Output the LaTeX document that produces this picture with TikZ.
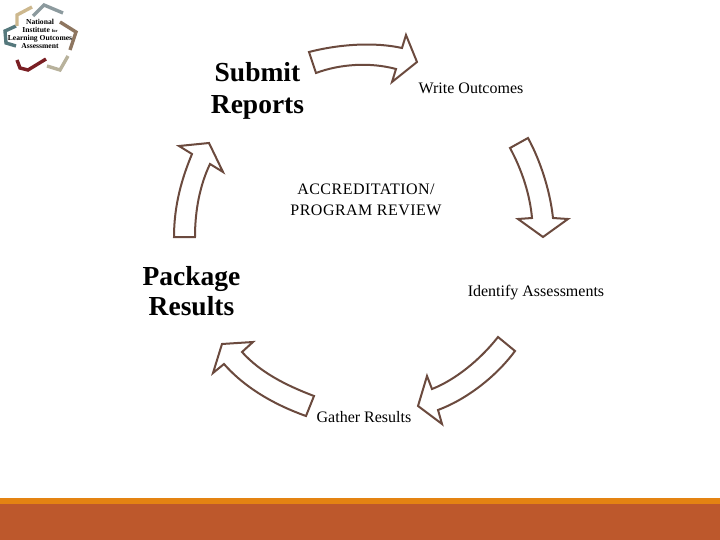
\documentclass[tikz,border=0pt]{standalone}
\usepackage{fontspec}
\setmainfont{Liberation Serif}
\definecolor{arrowbrown}{HTML}{6B4A3E}
\definecolor{bandorange}{HTML}{E48312}
\definecolor{bandrust}{HTML}{BD582C}
\definecolor{logogrey}{HTML}{8C9A9E}
\definecolor{logobrown}{HTML}{8E7660}
\definecolor{logotan}{HTML}{B8B29C}
\definecolor{logored}{HTML}{7A1F24}
\definecolor{logoteal}{HTML}{55787C}
\definecolor{logosand}{HTML}{CDB88E}
\begin{document}
\begin{tikzpicture}[x=1pt, y=-1pt, arrowshape/.style={draw=arrowbrown, line width=2pt, line join=miter, fill=white},
	bigtext/.style={font=\fontsize{27.5}{32}\selectfont\bfseries, align=center, inner sep=0pt},
	smalltext/.style={font=\fontsize{16}{21}\selectfont, align=center, inner sep=0pt},
	capstext/.style={font=\fontsize{16}{21}\selectfont\addfontfeature{LetterSpace=3}, align=center, inner sep=0pt},
	logotext/.style={font=\fontsize{7.6}{8}\selectfont\bfseries, align=center, inner sep=0pt},
	strand/.style={line width=3.4pt, line join=miter}]

	\useasboundingbox (0, 0) rectangle (720, 540);

	% bottom bands
	\fill[bandorange] (0, 498) rectangle (720, 504);
	\fill[bandrust] (0, 504) rectangle (720, 540);

	% logo
	\draw[strand, color=logogrey] (33, 16) -- (44, 5) -- (63, 13);
	\draw[strand, color=logobrown] (60, 22) -- (76, 32) -- (70, 50);
	\draw[strand, color=logotan] (68, 56) -- (60, 70) -- (47, 66);
	\draw[strand, color=logored] (17, 60) -- (20, 68) -- (28, 70) -- (46, 59);
	\draw[strand, color=logoteal] (16, 46) -- (6, 43) -- (5, 31) -- (16, 26);
	\draw[strand, color=logosand] (17, 26) -- (17, 15) -- (32, 7);
	\node[logotext] (logo) at (40, 34) {National\\Institute {\fontsize{4.5}{5}\selectfont for}\\Learning Outcomes\\Assessment};

	% arrows of the cycle
	\draw[arrowshape] (309, 52) .. controls (340, 44) and (375, 42) .. (402, 48) -- (406, 35) -- (417, 62) -- (392, 82) -- (396, 69) .. controls (370, 62) and (340, 64) .. (316, 73) -- cycle;
	\draw[arrowshape] (510, 148) .. controls (522, 170) and (530, 195) .. (532, 218) -- (518, 219) -- (543, 237) -- (568, 219) -- (553, 218) .. controls (550, 190) and (540, 160) .. (528, 138) -- cycle;
	\draw[arrowshape] (498, 337) .. controls (480, 360) and (455, 380) .. (432, 389) -- (427, 376) -- (418, 406) -- (442, 424) -- (438, 410) .. controls (465, 400) and (495, 378) .. (515, 351) -- cycle;
	\draw[arrowshape] (314, 396) .. controls (285, 385) and (260, 372) .. (242, 352) -- (253, 342) -- (222, 344) -- (213, 373) -- (224, 364) .. controls (245, 388) and (275, 405) .. (306, 416) -- cycle;
	\draw[arrowshape] (174, 237) .. controls (174, 205) and (182, 178) .. (192, 154) -- (179, 146) -- (209, 143) -- (223, 172) -- (210, 164) .. controls (200, 185) and (195, 210) .. (195, 237) -- cycle;

	% labels
	\node[bigtext] (reports) at (257.5, 90.5) {Submit\\Reports};
	\node[smalltext] (outcomes) at (471, 88) {Write Outcomes};
	\node[capstext] (review) at (366, 199.5) {ACCREDITATION/\\PROGRAM REVIEW};
	\node[smalltext] (assess) at (536, 292.5) {Identify Assessments};
	\node[smalltext] (gather) at (364, 417) {Gather Results};
	\node[bigtext] (package) at (191.5, 291) {Package\\[-2pt]Results};
\end{tikzpicture}
\end{document}
